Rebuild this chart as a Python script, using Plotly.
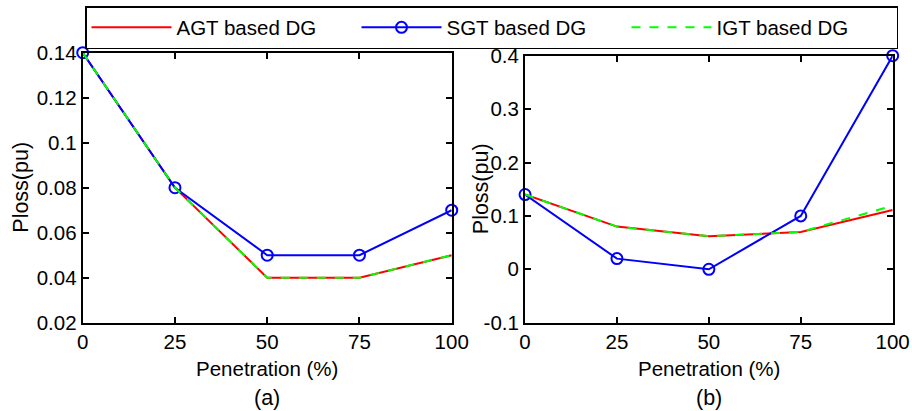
import plotly.graph_objects as go

# Penetration levels (%)
penetration = [0, 25, 50, 75, 100]

# (a) power loss per DG type
agt_a = [0.14, 0.08, 0.04, 0.04, 0.05]
sgt_a = [0.14, 0.08, 0.05, 0.05, 0.07]
igt_a = [0.14, 0.08, 0.04, 0.04, 0.05]

# (b) power loss per DG type
agt_b = [0.14, 0.08, 0.062, 0.07, 0.111]
sgt_b = [0.14, 0.02, 0.0, 0.10, 0.40]
igt_b = [0.14, 0.08, 0.062, 0.07, 0.119]

x_ticks = [0, 25, 50, 75, 100]
x_tick_text = ["0", "25", "50", "75", "100"]
ya_ticks = [0.02, 0.04, 0.06, 0.08, 0.10, 0.12, 0.14]
ya_tick_text = ["0.02", "0.04", "0.06", "0.08", "0.1", "0.12", "0.14"]
yb_ticks = [-0.1, 0.0, 0.1, 0.2, 0.3, 0.4]
yb_tick_text = ["-0.1", "0", "0.1", "0.2", "0.3", "0.4"]

FONT = "Liberation Sans, Arial, sans-serif"
FS = 20.5
RED, BLUE, GREEN = "#ff0000", "#0000ff", "#00ff00"
H = 411.0

XA = [0.0907, 0.4953]
XB = [0.5757, 0.9788]
YA = [1 - 322.7 / H, 1 - 52.7 / H]
YB = [1 - 322.7 / H, 1 - 55.7 / H]

fig = go.Figure()


def add_panel(agt, sgt, igt, xa, ya, show):
    fig.add_trace(go.Scatter(x=penetration, y=agt, mode="lines", name="AGT based DG",
                             line=dict(color=RED, width=2), xaxis=xa, yaxis=ya,
                             showlegend=show, cliponaxis=False))
    fig.add_trace(go.Scatter(x=penetration, y=sgt, mode="lines+markers", name="SGT based DG",
                             line=dict(color=BLUE, width=2),
                             marker=dict(symbol="circle-open", size=11, color=BLUE,
                                         line=dict(width=2, color=BLUE)),
                             xaxis=xa, yaxis=ya, showlegend=show, cliponaxis=False))
    fig.add_trace(go.Scatter(x=penetration, y=igt, mode="lines", name="IGT based DG",
                             line=dict(color=GREEN, width=2, dash="dash"), xaxis=xa, yaxis=ya,
                             showlegend=show, cliponaxis=False))


add_panel(agt_a, sgt_a, igt_a, "x", "y", True)
add_panel(agt_b, sgt_b, igt_b, "x2", "y2", False)

axis_common = dict(showline=True, linecolor="black", linewidth=2, mirror="allticks",
                   ticks="inside", ticklen=6, tickwidth=1.5, tickcolor="black",
                   showgrid=False, zeroline=False, automargin=False,
                   tickfont=dict(family=FONT, size=FS, color="black"))


def label(text, x, y, angle=0, size=FS):
    return dict(text=text, x=x, y=y, xref="paper", yref="paper", showarrow=False,
                textangle=angle, xanchor="center", yanchor="middle",
                font=dict(family=FONT, size=size, color="black"))


fig.update_layout(
    width=912, height=411,
    margin=dict(l=0, r=0, t=0, b=0, autoexpand=False),
    paper_bgcolor="white", plot_bgcolor="white",
    font=dict(family=FONT, size=FS, color="black"),
    xaxis=dict(domain=XA, range=[0, 100], tickvals=x_ticks, ticktext=x_tick_text,
               anchor="y", **axis_common),
    yaxis=dict(domain=YA, range=[0.02, 0.14], tickvals=ya_ticks,
               ticktext=ya_tick_text, anchor="x", **axis_common),
    xaxis2=dict(domain=XB, range=[0, 100], tickvals=x_ticks, ticktext=x_tick_text,
                anchor="y2", **axis_common),
    yaxis2=dict(domain=YB, range=[-0.1, 0.4], tickvals=yb_ticks,
                ticktext=yb_tick_text, anchor="x2", **axis_common),
    legend=dict(orientation="h", x=85 / 912, y=1 - 6 / H, xanchor="left", yanchor="top",
                bordercolor="black", borderwidth=1.5, bgcolor="white",
                itemwidth=80, entrywidth=175, entrywidthmode="pixels",
                font=dict(family=FONT, size=FS, color="black")),
    annotations=[
        label("Penetration (%)", sum(XA) / 2, 1 - 368 / H),
        label("Penetration (%)", sum(XB) / 2, 1 - 368 / H),
        label("Ploss(pu)", 21 / 912, sum(YA) / 2, -90, size=21.5),
        label("Ploss(pu)", 481 / 912, sum(YB) / 2, -90, size=21.5),
        label("(a)", sum(XA) / 2, 1 - 398 / H, size=FS + 1),
        label("(b)", sum(XB) / 2, 1 - 398 / H, size=FS + 1),
    ],
)

fig.write_html("out.html")
